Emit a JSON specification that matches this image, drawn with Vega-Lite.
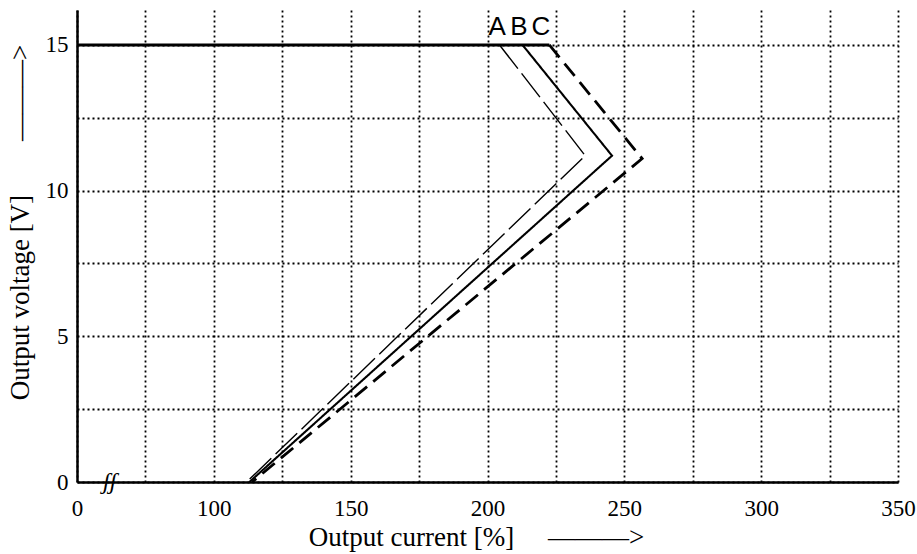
{
  "$schema": "https://vega.github.io/schema/vega-lite/v6.json",
  "width": 821,
  "height": 472,
  "autosize": {"type": "none"},
  "padding": {"left": 77, "top": 10, "right": 19, "bottom": 72},
  "background": "white",
  "config": {"view": {"stroke": null}, "font": "Liberation Serif"},
  "datasets": {
    "curves": [
      {"curve": "A", "i": 0, "current": 204.4, "voltage": 15},
      {"curve": "A", "i": 1, "current": 235.7, "voltage": 11.2},
      {"curve": "A", "i": 2, "current": 112, "voltage": 0},
      {"curve": "B", "i": 0, "current": 212.8, "voltage": 15},
      {"curve": "B", "i": 1, "current": 245.5, "voltage": 11.2},
      {"curve": "B", "i": 2, "current": 113, "voltage": 0},
      {"curve": "C", "i": 0, "current": 222.6, "voltage": 15},
      {"curve": "C", "i": 1, "current": 256.5, "voltage": 11.1},
      {"curve": "C", "i": 2, "current": 114, "voltage": 0}
    ],
    "curveNames": [
      {"curve": "A", "current": 203.5, "voltage": 15.6},
      {"curve": "B", "current": 211.5, "voltage": 15.6},
      {"curve": "C", "current": 219.5, "voltage": 15.6}
    ],
    "limit": [
      {"current": 50, "voltage": 15},
      {"current": 222.6, "voltage": 15}
    ],
    "axisBreak": [
      {"current": 62, "voltage": 0, "sign": "ʃʃ"}
    ]
  },
  "encoding": {
    "x": {
      "field": "current",
      "type": "quantitative",
      "scale": {"domain": [50, 350], "nice": false, "zero": false},
      "axis": {
        "values": [50, 75, 100, 125, 150, 175, 200, 225, 250, 275, 300, 325, 350],
        "labelExpr": "datum.value == 50 ? '0' : (datum.value % 50 == 0 ? datum.label : '')",
        "ticks": false,
        "grid": true,
        "gridColor": "black",
        "gridDash": [2, 3],
        "gridWidth": 1.8,
        "domainColor": "black",
        "domainWidth": 2.5,
        "labelFont": "Liberation Serif",
        "labelFontSize": 23,
        "labelColor": "black",
        "labelPadding": 26,
        "labelBaseline": "middle",
        "labelFlush": false,
        "labelOverlap": false,
        "title": "Output current [%]\u00a0\u00a0\u00a0\u00a0\u00a0———>",
        "titleFont": "Liberation Serif",
        "titleFontSize": 27,
        "titleFontWeight": "normal",
        "titleColor": "black",
        "titleX": 399,
        "titleY": 55,
        "titleBaseline": "middle"
      }
    },
    "y": {
      "field": "voltage",
      "type": "quantitative",
      "scale": {"domain": [0, 16.2], "nice": false, "zero": false},
      "axis": {
        "values": [0, 2.5, 5, 7.5, 10, 12.5, 15],
        "labelExpr": "datum.value % 5 == 0 ? datum.label : ''",
        "ticks": false,
        "grid": true,
        "gridColor": "black",
        "gridDash": [2, 3],
        "gridWidth": 1.8,
        "domainColor": "black",
        "domainWidth": 2.5,
        "labelFont": "Liberation Serif",
        "labelFontSize": 23,
        "labelColor": "black",
        "labelPadding": 9,
        "title": "Output voltage [V]\u00a0\u00a0\u00a0\u00a0\u00a0\u00a0\u00a0\u00a0———>",
        "titleFont": "Liberation Serif",
        "titleFontSize": 27,
        "titleFontWeight": "normal",
        "titleColor": "black",
        "titleX": -57,
        "titleY": 212,
        "titleBaseline": "middle"
      }
    }
  },
  "layer": [
    {
      "data": {"name": "limit"},
      "mark": {"type": "line", "color": "black", "strokeWidth": 3}
    },
    {
      "data": {"name": "curves"},
      "mark": {"type": "line", "color": "black"},
      "encoding": {
        "detail": {"field": "curve", "type": "nominal"},
        "order": {"field": "i", "type": "quantitative"},
        "strokeDash": {
          "field": "curve",
          "type": "nominal",
          "scale": {"domain": ["A", "B", "C"], "range": [[30, 6], [1, 0], [16, 8]]},
          "legend": null
        },
        "strokeWidth": {
          "field": "curve",
          "type": "ordinal",
          "scale": {"domain": ["A", "B", "C"], "range": [1.4, 2.8, 2.2]},
          "legend": null
        }
      }
    },
    {
      "data": {"name": "curveNames"},
      "mark": {"type": "text", "font": "Liberation Sans", "fontSize": 26, "baseline": "middle", "color": "black"},
      "encoding": {"text": {"field": "curve"}}
    },
    {
      "data": {"name": "axisBreak"},
      "mark": {"type": "text", "font": "Liberation Serif", "fontSize": 24, "fontStyle": "italic", "baseline": "middle", "color": "black"},
      "encoding": {"text": {"field": "sign"}}
    }
  ]
}
